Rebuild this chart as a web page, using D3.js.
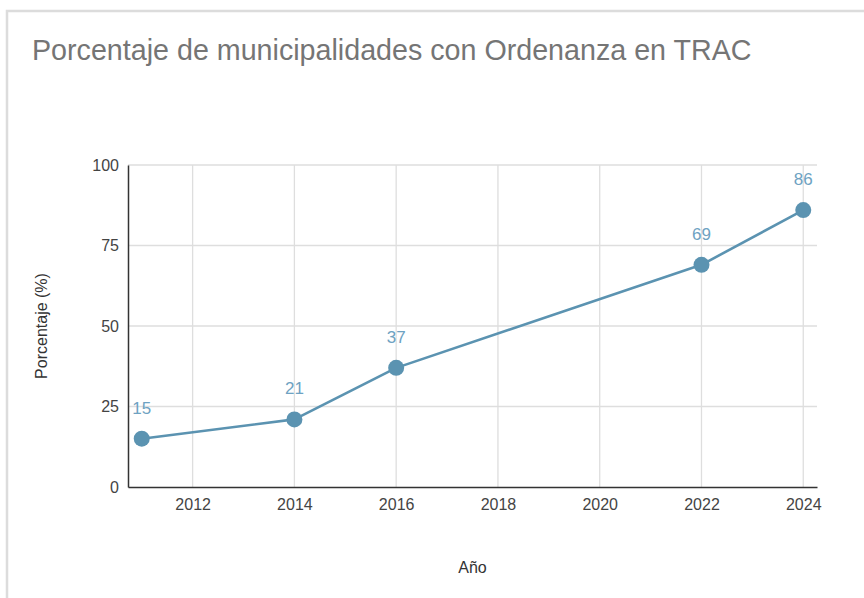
<!DOCTYPE html>
<html>
<head>
<meta charset="utf-8">
<script src="https://cdn.jsdelivr.net/npm/d3@7"></script>
<style>
  body { margin: 0; background: #fff; }
  text { font-family: "Liberation Sans", Arial, sans-serif; }
</style>
</head>
<body>
<div id="chart"></div>
<script>
const years = [2011, 2014, 2016, 2022, 2024];
const values = [15, 21, 37, 69, 86];
const xTicks = [2012, 2014, 2016, 2018, 2020, 2022, 2024];
const yTicks = [0, 25, 50, 75, 100];

const width = 864, height = 598;
const margin = {left: 128, right: 47, top: 165, bottom: 111};

const svg = d3.select('#chart').append('svg')
  .attr('width', width)
  .attr('height', height);

// card border (top and left only visible)
svg.append('path')
  .attr('d', `M7,${height} V11 H${width}`)
  .attr('fill', 'none')
  .attr('stroke', '#dcdcdc')
  .attr('stroke-width', 2.5);

const title = svg.append('text')
  .attr('x', 32).attr('y', 60)
  .attr('font-size', 28)
  .attr('fill', '#757575')
  .text('Porcentaje de municipalidades con Ordenanza en TRAC');
// fit title to the width seen in the reference
const tw = title.node().getComputedTextLength();
title.attr('font-size', 28 * 720 / tw);

const x = d3.scaleLinear().domain([2010.73, 2024.27]).range([margin.left, width - margin.right]);
const y = d3.scaleLinear().domain([0, 100]).range([height - margin.bottom, margin.top]);

// grid
svg.append('g').selectAll('line').data(yTicks.filter(d => d > 0)).join('line')
  .attr('x1', margin.left).attr('x2', width - margin.right)
  .attr('y1', d => y(d)).attr('y2', d => y(d))
  .attr('stroke', '#dedede').attr('stroke-width', 1.3);

svg.append('g').selectAll('line').data(xTicks).join('line')
  .attr('x1', d => x(d)).attr('x2', d => x(d))
  .attr('y1', margin.top).attr('y2', height - margin.bottom)
  .attr('stroke', '#dedede').attr('stroke-width', 1.3);

// axes
const xAxis = d3.axisBottom(x).tickValues(xTicks).tickFormat(d3.format('d')).tickSize(0).tickPadding(12);
svg.append('g')
  .attr('transform', `translate(0,${height - margin.bottom})`)
  .call(xAxis)
  .call(g => g.select('.domain').attr('stroke', '#333').attr('stroke-width', 1.5))
  .call(g => g.selectAll('text').attr('font-size', 16).attr('fill', '#444').attr('font-family', '"Liberation Sans", Arial, sans-serif'));

const yAxis = d3.axisLeft(y).tickValues(yTicks).tickSize(0).tickPadding(9);
svg.append('g')
  .attr('transform', `translate(${margin.left},0)`)
  .call(yAxis)
  .call(g => g.select('.domain').attr('stroke', '#333').attr('stroke-width', 1.5))
  .call(g => g.selectAll('text').attr('font-size', 16).attr('fill', '#444').attr('font-family', '"Liberation Sans", Arial, sans-serif'));

// axis titles
svg.append('text')
  .attr('transform', `translate(47,${(margin.top + height - margin.bottom) / 2}) rotate(-90)`)
  .attr('text-anchor', 'middle')
  .attr('font-size', 16)
  .attr('fill', '#333')
  .text('Porcentaje (%)');

svg.append('text')
  .attr('x', (margin.left + width - margin.right) / 2)
  .attr('y', 573)
  .attr('text-anchor', 'middle')
  .attr('font-size', 16)
  .attr('fill', '#333')
  .text('Año');

const data = years.map((yr, i) => ({year: yr, value: values[i]}));

const line = d3.line()
  .x(d => x(d.year))
  .y(d => y(d.value));

svg.append('path')
  .datum(data)
  .attr('fill', 'none')
  .attr('stroke', '#5b93b1')
  .attr('stroke-width', 2.6)
  .attr('stroke-linejoin', 'round')
  .attr('d', line);

svg.append('g').selectAll('circle').data(data).join('circle')
  .attr('cx', d => x(d.year))
  .attr('cy', d => y(d.value))
  .attr('r', 8)
  .attr('fill', '#5b93b1');

svg.append('g').selectAll('text').data(data).join('text')
  .attr('x', d => x(d.year))
  .attr('y', d => y(d.value) - 25)
  .attr('text-anchor', 'middle')
  .attr('font-size', 17)
  .attr('font-family', 'Roboto, sans-serif')
  .attr('fill', '#6ea2c2')
  .text(d => d.value);
</script>
</body>
</html>
